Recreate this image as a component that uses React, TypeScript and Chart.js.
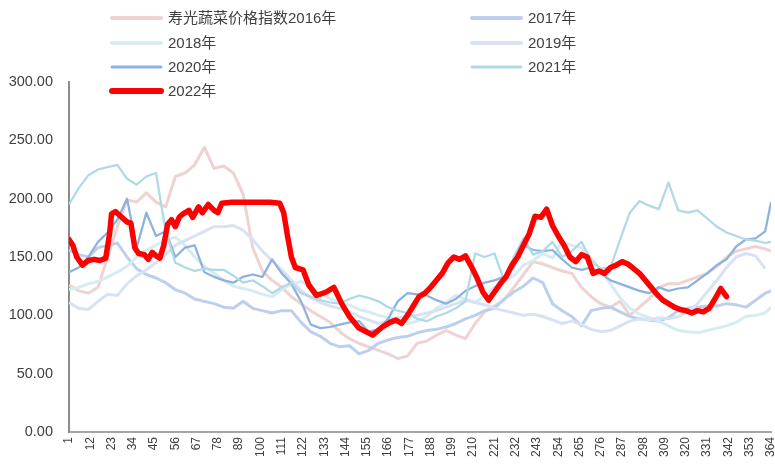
import { useEffect, useRef } from "react";
import { Chart, registerables } from "chart.js";

Chart.register(...registerables);

// ---- data ----
const DAYS = [
  1, 6, 11, 16, 21, 26, 31, 36, 41, 46, 51, 56, 61, 66, 71, 76, 81, 86, 91, 96,
  101, 106, 111, 116, 121, 126, 131, 136, 141, 146, 151, 156, 161, 166, 171, 176, 181, 186, 191, 196,
  201, 206, 211, 216, 221, 226, 231, 236, 241, 246, 251, 256, 261, 266, 271, 276, 281, 286, 291, 296,
  301, 306, 311, 316, 321, 326, 331, 336, 341, 346, 351, 356, 361, 364,
];

const Y2016 = [
  126, 121, 119, 124, 150, 176, 199, 197, 205, 197,
  193, 219, 222, 229, 244, 226, 228, 222, 204, 158,
  138, 130, 124, 116, 110, 104, 99, 94, 86, 80,
  76, 73, 70, 67, 63, 65, 76, 78, 83, 87,
  83, 80, 93, 103, 108, 113, 124, 135, 146, 144,
  141, 138, 136, 124, 116, 110, 107, 112, 100, 107,
  114, 124, 127, 127, 130, 133, 136, 142, 150, 155,
  157, 159, 157, 155,
];

const Y2017 = [
  156, 152, 150, 158, 160, 162, 150, 140, 135, 132,
  128, 122, 119, 114, 112, 110, 107, 106, 112, 106,
  104, 102, 104, 104, 94, 86, 82, 76, 73, 74,
  67, 70, 76, 79, 81, 82, 85, 87, 88, 90,
  93, 97, 100, 104, 106, 114, 120, 125, 132, 128,
  110, 104, 99, 91, 104, 106, 107, 103, 99, 97,
  96, 95, 98, 104, 106, 107, 108, 108, 110, 109,
  107, 113, 119, 121,
];

const Y2018 = [
  122, 124, 127, 129, 133, 137, 142, 150, 156, 160,
  165, 167, 160, 150, 142, 136, 130, 125, 123, 121,
  118, 116, 122, 127, 129, 124, 119, 114, 111, 109,
  105, 103, 100, 98, 96, 93, 95, 99, 106, 111,
  117, 114, 111, 117, 124, 129, 134, 143, 147, 153,
  149, 163, 160, 158, 149, 138, 127, 115, 106, 101,
  98, 95, 91, 87, 86, 85, 87, 89, 91, 94,
  99, 100, 102, 107,
];

const Y2019 = [
  111, 106, 105, 112, 118, 117, 127, 134, 139, 145,
  152, 160, 164, 168, 172, 176, 176, 177, 173, 165,
  155, 147, 139, 130, 121, 115, 111, 108, 106, 103,
  99, 96, 93, 95, 98, 99, 100, 102, 104, 107,
  110, 113, 111, 109, 106, 104, 102, 100, 101, 99,
  96, 93, 95, 92, 88, 86, 87, 91, 95, 97,
  96, 98, 97, 99, 103, 110, 120, 130, 141, 150,
  153, 151, 140, null,
];

const Y2020 = [
  137, 141, 150, 163, 171, 182, 200, 158, 188, 168,
  172, 150, 158, 160, 137, 133, 130, 128, 133, 135,
  133, 148, 136, 127, 112, 92, 89, 90, 92, 94,
  95, 86, 88, 97, 112, 119, 118, 117, 113, 110,
  114, 121, 125, 128, 130, 133, 141, 160, 156, 155,
  156, 148, 141, 139, 141, 136, 130, 127, 124, 121,
  119, 124, 121, 123, 124, 130, 136, 143, 148, 159,
  165, 166, 172, 197,
];

const Y2021 = [
  195, 209, 220, 225, 227, 229, 217, 212, 219, 222,
  172, 145, 141, 138, 140, 139, 139, 134, 128, 130,
  125, 119, 124, 128, 119, 116, 113, 111, 110, 114,
  117, 115, 112, 107, 104, 102, 97, 95, 99, 102,
  106, 112, 153, 150, 153, 130, 150, 166, 152, 155,
  163, 150, 155, 163, 147, 140, 141, 165, 188, 198,
  194, 191, 214, 190, 188, 190, 183, 176, 171, 168,
  165, 164, 162, 163,
];

const DAYS_2022 = [
  1, 3, 5, 8, 11, 14, 17, 20, 22, 23, 25, 27, 29, 31, 33, 35, 37, 40, 42, 44,
  46, 48, 50, 52, 54, 56, 58, 60, 63, 65, 68, 70, 73, 76, 78, 80, 85, 90, 95, 100,
  105, 110, 112, 114, 116, 118, 122, 125, 129, 134, 138, 142, 146, 151, 158, 163, 167, 170, 173, 176,
  179, 182, 185, 188, 191, 194, 197, 200, 203, 206, 209, 212, 215, 218, 221, 224, 227, 230, 233, 236,
  239, 242, 245, 248, 251, 254, 257, 260, 263, 266, 269, 272, 275, 278, 281, 284, 287, 290, 293, 296,
  299, 302, 305, 308, 311, 314, 317, 320, 323, 326, 329, 332, 335, 338, 341,
];

const Y2022 = [
  165, 160, 150, 143, 147, 148, 147, 149, 170, 187, 189, 186, 183, 180, 179, 158, 153, 152, 148, 154,
  151, 149, 160, 178, 182, 176, 184, 187, 190, 184, 193, 188, 195, 190, 188, 196, 197, 197, 197, 197,
  197, 196, 188, 168, 150, 141, 139, 126, 117, 120, 124, 110, 99, 89, 83, 90, 94, 96, 93, 100,
  108, 116, 119, 124, 130, 136, 145, 150, 148, 151, 142, 132, 120, 113, 120, 127, 133, 143, 150, 160,
  170, 185, 184, 191, 177, 168, 160, 150, 146, 152, 150, 136, 138, 136, 141, 143, 146, 144, 140, 136,
  130, 124, 118, 113, 110, 107, 105, 104, 102, 104, 103, 106, 114, 123, 116,
];

const SERIES_NAMES = [
  "寿光蔬菜价格指数2016年",
  "2017年",
  "2018年",
  "2019年",
  "2020年",
  "2021年",
  "2022年",
];

const X_TICKS = [
  1, 12, 23, 34, 45, 56, 67, 78, 89, 100, 111, 122, 133, 144, 155, 166, 177, 188, 199, 210,
  221, 232, 243, 254, 265, 276, 287, 298, 309, 320, 331, 342, 353, 364,
];
const Y_TICKS = [0, 50, 100, 150, 200, 250, 300];

// ---- styles ----
const COLORS = ["#efd2d2", "#bccfee", "#d6ecf2", "#d9e2f3", "#8db2e0", "#afdae5", "#ff0000"];
const WIDTHS = [3, 3, 3, 3, 2.25, 2.25, 5.5];
const LEGEND_WIDTHS = [4, 4, 4, 4, 3, 3, 6];

const legendPlugin = {
  id: "twoColLegend",
  afterDraw(chart: any) {
    const ctx = chart.ctx;
    const colX = [112, 472];
    const rowY = [18, 43, 67, 91];
    ctx.save();
    chart.data.datasets.forEach((ds: any, i: number) => {
      const col = i % 2;
      const row = Math.floor(i / 2);
      const x0 = colX[col];
      const y = rowY[row];
      ctx.strokeStyle = ds.borderColor;
      ctx.lineWidth = LEGEND_WIDTHS[i];
      ctx.lineCap = "round";
      ctx.beginPath();
      ctx.moveTo(x0, y);
      ctx.lineTo(x0 + 49, y);
      ctx.stroke();
      ctx.fillStyle = "#404040";
      ctx.font = '15px "Liberation Sans", "Noto Sans CJK SC", sans-serif';
      ctx.textBaseline = "middle";
      ctx.textAlign = "left";
      ctx.fillText(ds.label, x0 + 56, y + 1);
    });
    ctx.restore();
  },
};

export default function App() {
  const canvasRef = useRef<HTMLCanvasElement | null>(null);

  useEffect(() => {
    if (!canvasRef.current) return;
    const seriesValues = [Y2016, Y2017, Y2018, Y2019, Y2020, Y2021];
    const datasets: any[] = seriesValues.map((vals, i) => ({
      label: SERIES_NAMES[i],
      data: DAYS.map((d, j) => ({ x: d, y: vals[j] })),
      borderColor: COLORS[i],
      backgroundColor: COLORS[i],
      borderWidth: WIDTHS[i],
      pointRadius: 0,
      tension: 0,
      borderJoinStyle: "round",
      order: 6 - i,
    }));
    datasets.push({
      label: SERIES_NAMES[6],
      data: DAYS_2022.map((d, j) => ({ x: d, y: Y2022[j] })),
      borderColor: COLORS[6],
      backgroundColor: COLORS[6],
      borderWidth: WIDTHS[6],
      pointRadius: 0,
      tension: 0,
      borderJoinStyle: "round",
      borderCapStyle: "round",
      order: 0,
    });

    const chart = new Chart(canvasRef.current, {
      type: "line",
      data: { datasets },
      plugins: [legendPlugin],
      options: {
        animation: false,
        responsive: false,
        devicePixelRatio: 1,
        layout: { padding: { top: 82, right: 4, left: 0, bottom: 0 } },
        plugins: {
          legend: { display: false },
          tooltip: { enabled: false },
        },
        scales: {
          x: {
            type: "linear",
            min: 1,
            max: 364,
            grid: { display: false, drawTicks: false },
            border: { display: true, color: "#a6a6a6", width: 2 },
            afterBuildTicks: (scale: any) => {
              scale.ticks = X_TICKS.map((v) => ({ value: v }));
            },
            afterFit: (scale: any) => {
              scale.height = 34;
              scale.paddingLeft = 0;
              scale.paddingRight = 0;
            },
            ticks: {
              autoSkip: false,
              minRotation: 90,
              maxRotation: 90,
              padding: 5,
              color: "#404040",
              font: { family: '"Liberation Sans", sans-serif', size: 12 },
              callback: (v: any) => String(v),
            },
          },
          y: {
            min: 0,
            max: 300,
            grid: { display: false, drawTicks: false },
            border: { display: true, color: "#8c8c8c", width: 2 },
            afterBuildTicks: (scale: any) => {
              scale.ticks = Y_TICKS.map((v) => ({ value: v }));
            },
            afterFit: (scale: any) => {
              scale.width = 69;
            },
            ticks: {
              padding: 16,
              color: "#404040",
              font: { family: '"Liberation Sans", sans-serif', size: 14.5 },
              callback: (v: any) => Number(v).toFixed(2),
            },
          },
        },
      },
    });
    return () => chart.destroy();
  }, []);

  return (
    <div style={{ position: "fixed", left: 0, top: 0, width: 775, height: 466, background: "#fff" }}>
      <canvas ref={canvasRef} width={775} height={466} style={{ display: "block" }} />
    </div>
  );
}
